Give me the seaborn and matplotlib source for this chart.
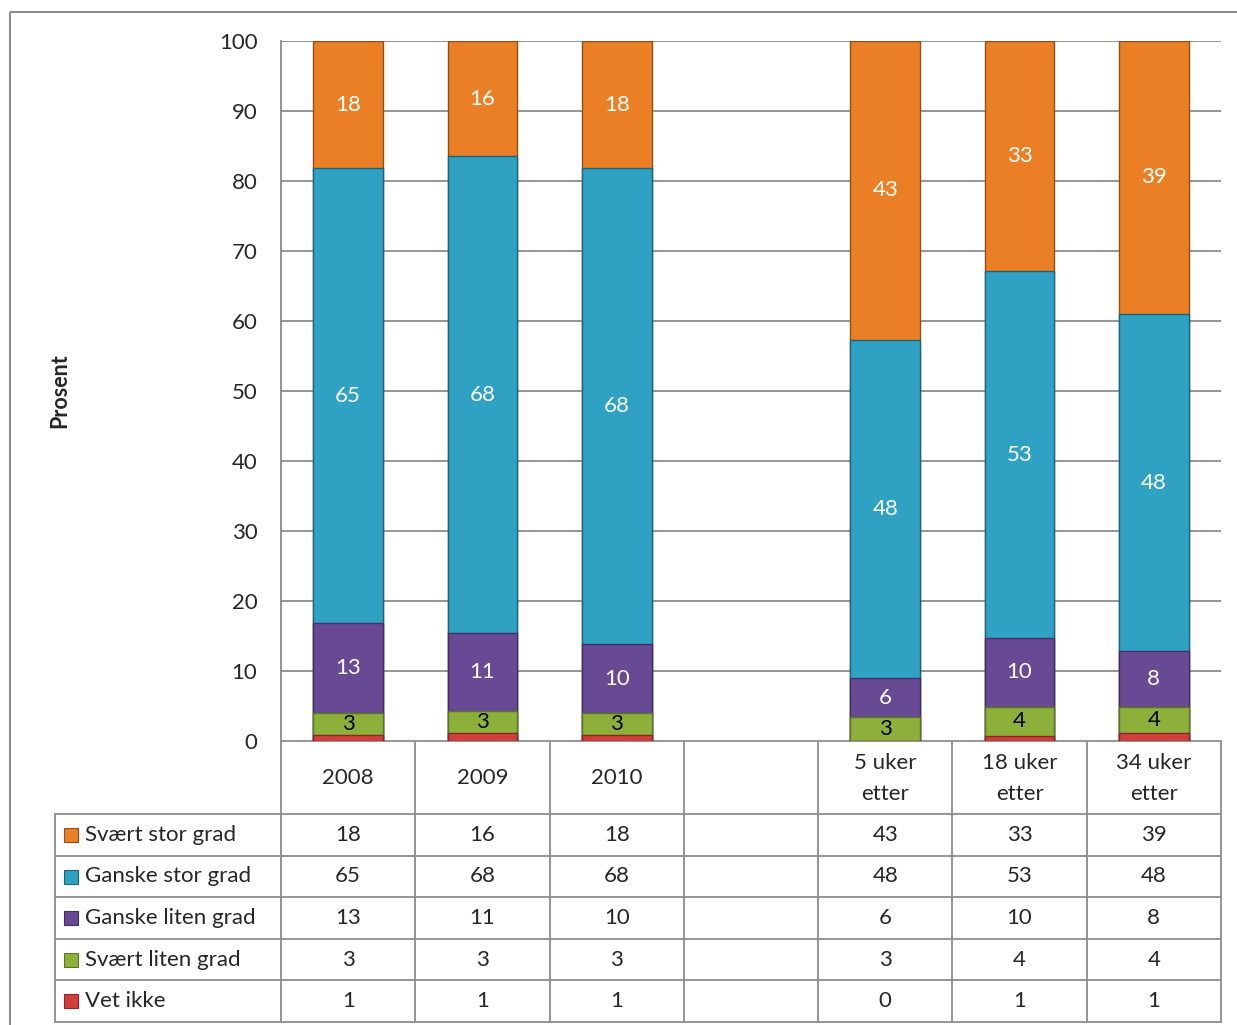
import matplotlib.pyplot as plt
import matplotlib.patches as mpatches
import numpy as np
import pandas as pd
import seaborn as sns

# %% DATA
categories = ["2008", "2009", "2010", "", "5 uker\netter", "18 uker\netter", "34 uker\netter"]
positions = [0, 1, 2, 4, 5, 6]  # slot 3 is the empty gap column
series = ["Svært stor grad", "Ganske stor grad", "Ganske liten grad", "Svært liten grad", "Vet ikke"]

# values as printed in the data table (rounded)
svaert_stor = [18, 16, 18, 43, 33, 39]
ganske_stor = [65, 68, 68, 48, 53, 48]
ganske_liten = [13, 11, 10, 6, 10, 8]
svaert_liten = [3, 3, 3, 3, 4, 4]
vet_ikke = [1, 1, 1, 0, 1, 1]

# unrounded bar heights
bar_svaert_stor = [18.2, 16.5, 18.2, 42.7, 32.9, 39.0]
bar_ganske_stor = [64.9, 68.1, 68.0, 48.3, 52.4, 48.2]
bar_ganske_liten = [12.9, 11.1, 9.8, 5.6, 9.8, 8.0]
bar_svaert_liten = [3.1, 3.2, 3.1, 3.4, 4.2, 3.7]
bar_vet_ikke = [0.9, 1.1, 0.9, 0.0, 0.7, 1.1]

yticks = list(range(0, 101, 10))

colors = ["#EA7F26", "#2FA2C4", "#684993", "#8CB03A", "#D23E3C"]
edges = ["#8E4E16", "#1B6479", "#432D66", "#5A7424", "#8A2523"]
label_colors = ["white", "white", "white", "black", None]

table_rows = [svaert_stor, ganske_stor, ganske_liten, svaert_liten, vet_ikke]
bar_rows = [bar_svaert_stor, bar_ganske_stor, bar_ganske_liten, bar_svaert_liten, bar_vet_ikke]

# bottom-up order for stacking
stack_names = series[::-1]
df = pd.DataFrame({name: bar_rows[series.index(name)] for name in stack_names}, index=positions)
cum = df.cumsum(axis=1)

# %% FIGURE
sns.set_theme(style="white")
plt.rcParams["font.family"] = ["Lato", "DejaVu Sans"]

W, H = 1237, 1025
fig = plt.figure(figsize=(W / 100, H / 100), dpi=100)

x0, x1, y_top, y_bot = 281, 1221, 41, 741
ax = fig.add_axes([x0 / W, 1 - y_bot / H, (x1 - x0) / W, (y_bot - y_top) / H])

# draw cumulative bars from the top of the stack down so each layer shows
for name in stack_names[::-1]:
    i = series.index(name)
    sns.barplot(
        x=positions, y=cum[name].values, color=colors[i], saturation=1,
        width=0.52, native_scale=True, edgecolor=edges[i], linewidth=1.0,
        errorbar=None, ax=ax, zorder=3,
    )

# segment labels (printed values, centred in each segment)
for name in stack_names:
    i = series.index(name)
    if label_colors[i] is None:
        continue
    for k, p in enumerate(positions):
        v = df.loc[p, name]
        if v <= 0:
            continue
        mid = cum.loc[p, name] - v / 2
        ax.text(p, mid, f"{table_rows[i][k]}", ha="center", va="center", fontsize=16,
                color=label_colors[i], zorder=5)

ax.set_xlim(-0.5, 6.5)
ax.set_ylim(0, 100)
ax.set_yticks(yticks)
ax.set_yticklabels([str(t) for t in yticks], fontsize=16)
ax.set_xticks([])
ax.set_xlabel("")
ax.tick_params(axis="y", length=0, pad=17)
ax.yaxis.grid(True, color="#8c8c8c", linewidth=1.3, zorder=0)
ax.set_axisbelow(True)
for s in ["top", "right", "bottom"]:
    ax.spines[s].set_visible(False)
ax.spines["left"].set_color("#8c8c8c")
ax.spines["left"].set_linewidth(1.3)

fig.text(60 / W, 1 - 391 / H, "Prosent", rotation=90, ha="center", va="center",
         fontsize=15.5, fontweight="bold")

# %% DATA TABLE
tab = fig.add_axes([0, 0, 1, 1], zorder=-1)
tab.set_xlim(0, W)
tab.set_ylim(H, 0)
tab.axis("off")
tab.patch.set_alpha(0)

line_c = "#8c8c8c"
col_edges = np.linspace(x0, x1, len(categories) + 1)
row_edges = [741, 814, 856, 897, 939, 980, 1022]
tab_left = 55

tab.plot([x0, x1], [row_edges[0], row_edges[0]], color=line_c, lw=1.3)
for r in row_edges[1:]:
    tab.plot([tab_left, x1], [r, r], color=line_c, lw=1.3)
for c in col_edges:
    tab.plot([c, c], [row_edges[0], row_edges[-1]], color=line_c, lw=1.3)
tab.plot([tab_left, tab_left], [row_edges[1], row_edges[-1]], color=line_c, lw=1.3)

centers = (col_edges[:-1] + col_edges[1:]) / 2
for ci, cat in enumerate(categories):
    tab.text(centers[ci], (row_edges[0] + row_edges[1]) / 2 + 1, cat, ha="center",
             va="center", fontsize=16, linespacing=1.7)

slot_of = {p: k for k, p in enumerate(positions)}
for ri, (name, vals) in enumerate(zip(series, table_rows)):
    yc = (row_edges[ri + 1] + row_edges[ri + 2]) / 2
    tab.add_patch(mpatches.Rectangle((64, yc - 7), 14, 14, facecolor=colors[ri],
                                     edgecolor=edges[ri], lw=0.8))
    tab.text(85, yc, name, ha="left", va="center", fontsize=16)
    for p in positions:
        tab.text(centers[p], yc, str(vals[slot_of[p]]), ha="center", va="center",
                 fontsize=16)

# outer chart frame
tab.add_patch(mpatches.Rectangle((10, 12), W, H, fill=False, edgecolor=line_c, lw=1.5))

fig.savefig("out.png", dpi=100)
